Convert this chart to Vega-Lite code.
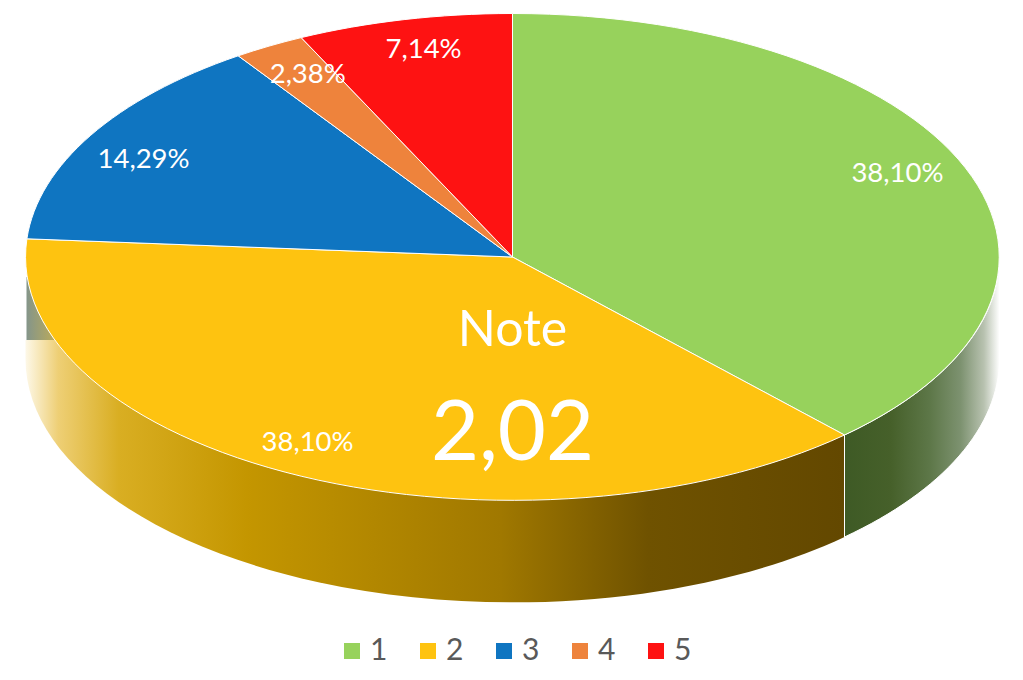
{
  "$schema": "https://vega.github.io/schema/vega-lite/v6.json",
  "width": 973,
  "height": 486,
  "autosize": "none",
  "padding": {"left": 26, "top": 14, "right": 24, "bottom": 180},
  "background": "white",
  "config": {"view": {"stroke": null}, "font": "Lato"},
  "data": {"values": [
    {"slice": "1", "part": "a", "share": 38.10, "label": "38,10%"},
    {"slice": "2", "part": "b", "share": 38.10, "label": "38,10%"},
    {"slice": "3", "part": "c", "share": 14.29, "label": "14,29%"},
    {"slice": "4", "part": "d", "share": 2.38, "label": "2,38%"},
    {"slice": "5", "part": "e", "share": 7.14, "label": "7,14%"}
  ]},
  "layer": [
    {
      "transform": [{"filter": "datum.slice == '3'"}],
      "mark": {"type": "point", "filled": true, "opacity": 1, "size": 4,
        "shape": "M-486,20L-450,20L-450,83L-486,83Z",
        "fill": {"gradient": "linear", "x1": 0, "x2": 1, "y1": 0, "y2": 0, "stops": [
          {"offset": 0, "color": "#84958a"}, {"offset": 1, "color": "#c9b04e"}]}},
      "encoding": {
        "x": {"datum": 0, "type": "quantitative", "scale": {"domain": [-1, 1], "nice": false, "zero": false}, "axis": null},
        "y": {"datum": 0, "type": "quantitative", "scale": {"domain": [-1, 1], "nice": false, "zero": false}, "axis": null}
      }
    },
    {
      "transform": [{"filter": "datum.slice == '2'"}],
      "mark": {"type": "point", "filled": true, "opacity": 1, "size": 4,
        "shape": "M-487,83L332,83L332,280A487,243.5 0 0 1 -487,102Z",
        "fill": {"gradient": "linear", "x1": 0, "x2": 1, "y1": 0, "y2": 0, "stops": [
          {"offset": 0, "color": "#fdf8e8"},
          {"offset": 0.04, "color": "#eecf75"},
          {"offset": 0.114, "color": "#d9ae22"},
          {"offset": 0.27, "color": "#c49600"},
          {"offset": 0.58, "color": "#a07800"},
          {"offset": 0.76, "color": "#6f5200"},
          {"offset": 1, "color": "#634800"}]}},
      "encoding": {
        "x": {"datum": 0, "type": "quantitative", "axis": null},
        "y": {"datum": 0, "type": "quantitative", "axis": null}
      }
    },
    {
      "transform": [{"filter": "datum.slice == '1'"}],
      "mark": {"type": "point", "filled": true, "opacity": 1, "size": 4,
        "stroke": "white", "strokeWidth": 1,
        "shape": "M332,178A487,243.5 0 0 0 487,0L487,102A487,243.5 0 0 1 332,280Z",
        "fill": {"gradient": "linear", "x1": 0, "x2": 1, "y1": 0, "y2": 0, "stops": [
          {"offset": 0, "color": "#3e5a25"},
          {"offset": 0.3, "color": "#46602a"},
          {"offset": 0.55, "color": "#5d7748"},
          {"offset": 0.75, "color": "#7d9270"},
          {"offset": 0.9, "color": "#b8c2b0"},
          {"offset": 1, "color": "#ffffff"}]}},
      "encoding": {
        "x": {"datum": 0, "type": "quantitative", "axis": null},
        "y": {"datum": 0, "type": "quantitative", "axis": null}
      }
    },
    {
      "mark": {"type": "point", "filled": true, "opacity": 1, "size": 4, "stroke": "white", "strokeWidth": 1},
      "encoding": {
        "x": {"datum": 0, "type": "quantitative", "axis": null},
        "y": {"datum": 0, "type": "quantitative", "axis": null},
        "shape": {"field": "part", "type": "nominal", "legend": null, "scale": {
          "domain": ["a", "b", "c", "d", "e"],
          "range": [
            "M0,0L0,-243.5A487,243.5 0 0 1 332,178Z",
            "M0,0L332,178A487,243.5 0 0 1 -485.6,-18.2Z",
            "M0,0L-485.6,-18.2A487,243.5 0 0 1 -274.3,-201.2Z",
            "M0,0L-274.3,-201.2A487,243.5 0 0 1 -211.3,-219.4Z",
            "M0,0L-211.3,-219.4A487,243.5 0 0 1 0,-243.5Z"
          ]}},
        "color": {"field": "slice", "type": "nominal", "title": null,
          "scale": {"domain": ["1", "2", "3", "4", "5"], "range": ["#97d25c", "#fec310", "#0f75c1", "#ee833c", "#fe1212"]},
          "legend": {
            "orient": "none", "legendX": 311, "legendY": 622, "direction": "horizontal", "columns": 5,
            "symbolType": "square", "symbolSize": 256, "symbolStrokeWidth": 0, "symbolOpacity": 1,
            "labelFont": "Lato", "labelFontSize": 30, "labelColor": "#595959", "labelOffset": 3,
            "columnPadding": 25, "padding": 0
          }}
      }
    },
    {
      "transform": [
        {"window": [{"op": "sum", "field": "share", "as": "cum"}], "sort": [{"field": "slice"}]},
        {"calculate": "(datum.cum - datum.share / 2) / 100 * 2 * PI", "as": "mid"},
        {"calculate": "{'1': 0.85, '2': 0.97, '3': 0.876, '4': 0.843, '5': 0.824}[datum.slice] * sin(datum.mid)", "as": "lx"},
        {"calculate": "{'1': 0.936, '2': 0.85, '3': 0.798, '4': 0.865, '5': 0.875}[datum.slice] * cos(datum.mid)", "as": "ly"}
      ],
      "mark": {"type": "text", "color": "white", "fontSize": 27.5, "font": "Lato", "align": "center", "baseline": "middle"},
      "encoding": {
        "x": {"field": "lx", "type": "quantitative", "axis": null},
        "y": {"field": "ly", "type": "quantitative", "axis": null},
        "text": {"field": "label"}
      }
    },
    {
      "data": {"values": [{"caption": "Note"}]},
      "mark": {"type": "text", "color": "white", "fontSize": 50, "font": "Lato", "align": "center", "baseline": "middle"},
      "encoding": {
        "x": {"datum": 0, "type": "quantitative", "axis": null},
        "y": {"datum": -0.304, "type": "quantitative", "axis": null},
        "text": {"field": "caption"}
      }
    },
    {
      "data": {"values": [{"caption": "2,02"}]},
      "mark": {"type": "text", "color": "white", "fontSize": 83, "font": "Lato", "align": "center", "baseline": "middle"},
      "encoding": {
        "x": {"datum": 0, "type": "quantitative", "axis": null},
        "y": {"datum": -0.733, "type": "quantitative", "axis": null},
        "text": {"field": "caption"}
      }
    }
  ]
}
